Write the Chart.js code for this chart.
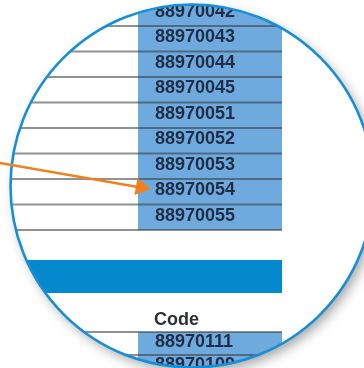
<!DOCTYPE html>
<html>
<head>
<meta charset="utf-8">
<script src="https://cdn.jsdelivr.net/npm/chart.js@4/dist/chart.umd.min.js"></script>
<style>
  body { margin: 0; background: #fff; }
  #wrap { width: 364px; height: 368px; }
</style>
</head>
<body>
<div id="wrap"><canvas id="chart" width="364" height="368"></canvas></div>
<script>
// codes in the first table (one per row, top to bottom)
const codes = ["88970042", "88970043", "88970044", "88970045", "88970051",
  "88970052", "88970053", "88970054", "88970055"];
// second table, under the blue heading bar
const header2 = "Code";
const codes2 = ["88970111", "88970109"];
// the row the arrow points at
const pointedCode = "88970054";

// table layout in row units (y) and column units (x: code column is 1..2)
const bandTop = 10.18, bandBottom = 11.47;
const headerRow = 12.53;
const table2Top = 13, table2RowH = 0.9;

const colLight = "#6eaade";
const colBand = "#0489cf";
const colRule = "rgba(55,55,55,0.55)";
const colText = "#1f2d45";

// magnifier frame
const lens = { x: 192, y: 186, r: 181.5 };

//-----------------------------------------------
let rules = [];
for (let i = 1; i <= codes.length; i++) {
  rules.push({ x: -1, y: i }, { x: 2, y: i }, { x: 2, y: null });
}
for (let i = 0; i < codes2.length; i++) {
  let y = table2Top + i * table2RowH;
  rules.push({ x: -1, y: y }, { x: 2, y: y }, { x: 2, y: null });
}

let row = codes.indexOf(pointedCode);
let arrow = [
  { x: 0.04, y: row - 0.63 },
  { x: 1.02, y: row + 0.33 }
];

function lensPath(ctx) {
  ctx.beginPath();
  ctx.arc(lens.x, lens.y, lens.r, 0, Math.PI * 2);
}

const lensPlugin = {
  id: "lens",
  beforeDraw(chart) {
    let ctx = chart.ctx;
    ctx.save();
    ctx.shadowColor = "rgba(0,0,0,0.35)";
    ctx.shadowBlur = 12;
    ctx.shadowOffsetX = 4;
    ctx.shadowOffsetY = 5;
    lensPath(ctx);
    ctx.fillStyle = "#fff";
    ctx.fill();
    ctx.restore();
    ctx.save();
    lensPath(ctx);
    ctx.clip();
  },
  beforeDatasetDraw(chart, args) {
    if (args.index !== 0) return;
    let ctx = chart.ctx;
    let x = chart.scales.x, y = chart.scales.y;
    let left = x.getPixelForValue(1) + 17;
    ctx.fillStyle = colText;
    ctx.textBaseline = "middle";
    ctx.font = 'bold 18px "Liberation Sans", Arial, sans-serif';
    codes.forEach((c, i) => {
      ctx.fillText(c, left, y.getPixelForValue(i + 0.5) - 1.5);
    });
    codes2.forEach((c, i) => {
      ctx.fillText(c, left, y.getPixelForValue(table2Top + (i + 0.5) * table2RowH) - 1.5);
    });
    ctx.fillStyle = "#2b2f36";
    ctx.fillText(header2, left - 1, y.getPixelForValue(headerRow));
    ctx.restore();
    // frame ring
    ctx.save();
    lensPath(ctx);
    ctx.lineWidth = 2.6;
    ctx.strokeStyle = "#168fd6";
    ctx.stroke();
    ctx.restore();
  }
};

new Chart(document.getElementById("chart"), {
  type: "line",
  data: {
    datasets: [
      {
        // arrow (index 0 is drawn last)
        data: arrow,
        borderColor: "#f2801c",
        borderWidth: 2.6,
        pointRadius: [0, 10],
        pointStyle: "triangle",
        pointRotation: 99.8,
        pointBackgroundColor: "#f2801c",
        pointBorderColor: "#f2801c",
        pointBorderWidth: 0,
        clip: false
      },
      {
        data: rules,
        borderColor: colRule,
        borderWidth: 2,
        pointRadius: 0,
        spanGaps: false
      },
      {
        data: [{ x: 1, y: table2Top }, { x: 2, y: table2Top }],
        borderColor: "transparent",
        borderWidth: 0,
        pointRadius: 0,
        backgroundColor: colLight,
        fill: { value: table2Top + 5 }
      },
      {
        data: [{ x: -1, y: bandTop }, { x: 2, y: bandTop }],
        borderColor: "transparent",
        borderWidth: 0,
        pointRadius: 0,
        backgroundColor: colBand,
        fill: { value: bandBottom }
      },
      {
        data: [{ x: 1, y: -1 }, { x: 2, y: -1 }],
        borderColor: "transparent",
        borderWidth: 0,
        pointRadius: 0,
        backgroundColor: colLight,
        fill: { value: codes.length }
      }
    ]
  },
  options: {
    responsive: false,
    animation: false,
    devicePixelRatio: 1,
    layout: { padding: 0, autoPadding: false },
    plugins: { legend: { display: false }, tooltip: { enabled: false } },
    scales: {
      x: { type: "linear", display: false, min: 0.0417, max: 2.5694 },
      y: { type: "linear", display: false, reverse: true, min: -0.0196, max: 14.412 }
    }
  },
  plugins: [lensPlugin]
});
</script>
</body>
</html>
